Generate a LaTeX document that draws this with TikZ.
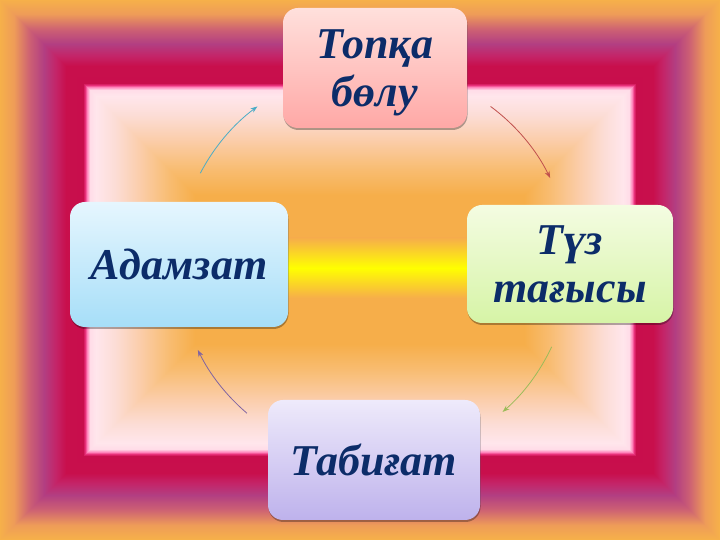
\documentclass[tikz,border=0pt]{standalone}
\usepackage{fontspec}
\setmainfont{Liberation Serif}
\usetikzlibrary{arrows.meta,shadows,calc}
\definecolor{s0}{HTML}{F6B04A}
\definecolor{s1}{HTML}{EE9C58}
\definecolor{s2}{HTML}{CC5F74}
\definecolor{s3}{HTML}{B23E82}
\definecolor{s4}{HTML}{C42468}
\definecolor{s5}{HTML}{C80F4C}
\definecolor{s6}{HTML}{C80E4C}
\definecolor{s7}{HTML}{E8307A}
\definecolor{s8}{HTML}{FF86BC}
\definecolor{s9}{HTML}{FFDCE8}
\definecolor{s10}{HTML}{FFE6EC}
\definecolor{s11}{HTML}{FCDDD6}
\definecolor{s12}{HTML}{FBCDAA}
\definecolor{s13}{HTML}{F8BC70}
\definecolor{s14}{HTML}{F6AE4A}
\definecolor{navy}{HTML}{0C2C69}
\definecolor{bandyellow}{HTML}{FFFF00}
\definecolor{arrRed}{HTML}{C0504D}
\definecolor{arrGreen}{HTML}{9BBB59}
\definecolor{arrPurple}{HTML}{8064A2}
\definecolor{arrTeal}{HTML}{4BACC6}
\definecolor{pinkTop}{HTML}{FFE0DC}
\definecolor{pinkBot}{HTML}{FFA8A6}
\definecolor{limeTop}{HTML}{F4FCE2}
\definecolor{limeBot}{HTML}{D6F4A6}
\definecolor{lavTop}{HTML}{EEEAFB}
\definecolor{lavBot}{HTML}{BEB2EC}
\definecolor{blueTop}{HTML}{E6F6FE}
\definecolor{blueBot}{HTML}{A6DEF8}
\tikzset{
  box/.style={rounded corners=15pt, text=navy, align=center, inner sep=0pt,
    font=\fontsize{44}{48}\selectfont\bfseries\itshape,
    drop shadow={shadow xshift=0.5pt, shadow yshift=-2pt, opacity=0.3, fill=black}},
  conn/.style={line width=0.8pt, -{Stealth[length=7pt,width=5pt]}}
}
\begin{document}
\begin{tikzpicture}[x=1pt,y=1pt]
\useasboundingbox (0,0) rectangle (720,540);
% background frame gradient
\foreach \a/\b/\ca/\cb in {0/14/s0/s1, 14/30/s1/s2, 30/44/s2/s3, 44/56/s3/s4, 56/66/s4/s5, 66/83/s5/s6, 83/85/s6/s7, 85/87/s7/s8, 87/90/s8/s9, 90/96/s9/s10, 96/115/s10/s11, 115/140/s11/s12, 140/170/s12/s13, 170/195/s13/s14}{
  \foreach \d in {\a,...,\b}{
    \pgfmathtruncatemacro\p{100*(\b-\d)/(\b-\a)}
    \fill[\ca!\p!\cb] (\d,\d) rectangle ({720-\d},{540-\d});
  }
}
\fill[s14] (195,195) rectangle (525,345);
\shade[top color=s14, bottom color=s14, middle color=bandyellow] (170,242) rectangle (560,302);

% boxes
\node[box, minimum width=184pt, minimum height=120pt, top color=pinkTop, bottom color=pinkBot] (top) at (375,472) {Топқа\\бөл\smash{у}};
\node[box, minimum width=206pt, minimum height=118pt, top color=limeTop, bottom color=limeBot] (right) at (570,276) {Түз\\тағысы};
\node[box, minimum width=212pt, minimum height=120pt, top color=lavTop, bottom color=lavBot] (bottom) at (374,80) {Табиғат};
\node[box, minimum width=218pt, minimum height=125pt, top color=blueTop, bottom color=blueBot] (left) at (179,275.5) {Адамзат};

% connectors along the cycle
\coordinate (ctr) at (374,276);
\coordinate (c1) at ($(ctr)+(53.5:196)$);
\coordinate (c2) at ($(ctr)+(-25:196)$);
\coordinate (c3) at ($(ctr)+(229.6:196)$);
\coordinate (c4) at ($(ctr)+(152.4:196)$);
\draw[conn, arrRed] (c1) arc[start angle=53.5, end angle=26, radius=196];
\draw[conn, arrGreen] (c2) arc[start angle=-25, end angle=-49, radius=196];
\draw[conn, arrPurple] (c3) arc[start angle=229.6, end angle=206, radius=196];
\draw[conn, arrTeal] (c4) arc[start angle=152.4, end angle=126.5, radius=196];
\end{tikzpicture}
\end{document}
